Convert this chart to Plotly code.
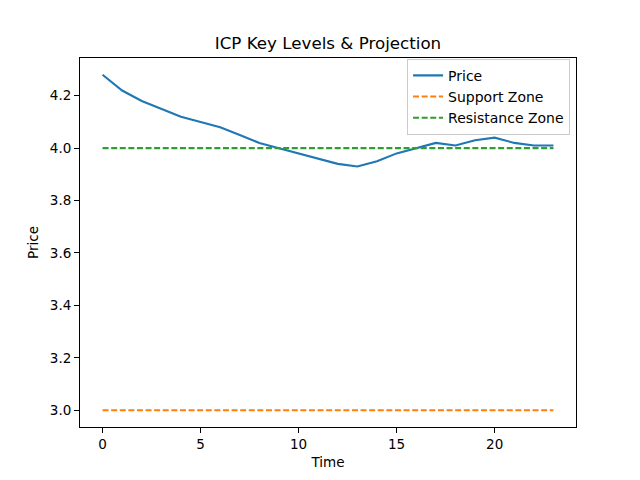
import plotly.graph_objects as go

time = list(range(24))
price = [4.28, 4.22, 4.18, 4.15, 4.12, 4.10, 4.08, 4.05, 4.02, 4.00, 3.98, 3.96,
         3.94, 3.93, 3.95, 3.98, 4.00, 4.02, 4.01, 4.03, 4.04, 4.02, 4.01, 4.01]
support_level = 3.0
resistance_level = 4.0
support = [support_level] * len(time)
resistance = [resistance_level] * len(time)

font = "DejaVu Sans"
fig = go.Figure()
fig.add_trace(go.Scatter(x=time, y=price, mode="lines", name="Price",
                         line=dict(color="#1f77b4", width=2.1)))
fig.add_trace(go.Scatter(x=time, y=support, mode="lines", name="Support Zone",
                         line=dict(color="#ff7f0e", width=2.1, dash="6px,2.6px")))
fig.add_trace(go.Scatter(x=time, y=resistance, mode="lines", name="Resistance Zone",
                         line=dict(color="#2ca02c", width=2.1, dash="6px,2.6px")))

axis_common = dict(showline=True, linecolor="black", linewidth=1, mirror=True,
                   ticks="outside", ticklen=5, tickwidth=1, tickcolor="black",
                   showgrid=False, zeroline=False,
                   tickfont=dict(family=font, size=13.5, color="black"))

fig.update_layout(
    width=640, height=480,
    margin=dict(l=72, r=72, t=50, b=61),
    paper_bgcolor="white", plot_bgcolor="white",
    title=dict(text="ICP Key Levels & Projection", x=0.5, xanchor="center",
               xref="paper", yref="paper", y=1, yanchor="bottom",
               pad=dict(b=9), font=dict(family=font, size=16.7, color="black")),
    xaxis=dict(range=[-1.15, 24.15], tickvals=[0, 5, 10, 15, 20],
               title=dict(text="Time", font=dict(family=font, size=13.5, color="black"), standoff=6),
               **axis_common),
    yaxis=dict(range=[2.936, 4.344], tickvals=[3.0, 3.2, 3.4, 3.6, 3.8, 4.0, 4.2],
               tickformat=".1f",
               title=dict(text="Price", font=dict(family=font, size=13.5, color="black"), standoff=8),
               **axis_common),
    legend=dict(x=0.988, y=0.998, xanchor="right", yanchor="top",
                bgcolor="rgba(255,255,255,0.8)", bordercolor="#cccccc", borderwidth=1,
                font=dict(family=font, size=14, color="black"),
                tracegroupgap=0, itemwidth=30),
    showlegend=True,
)

fig.write_html("out.html")
